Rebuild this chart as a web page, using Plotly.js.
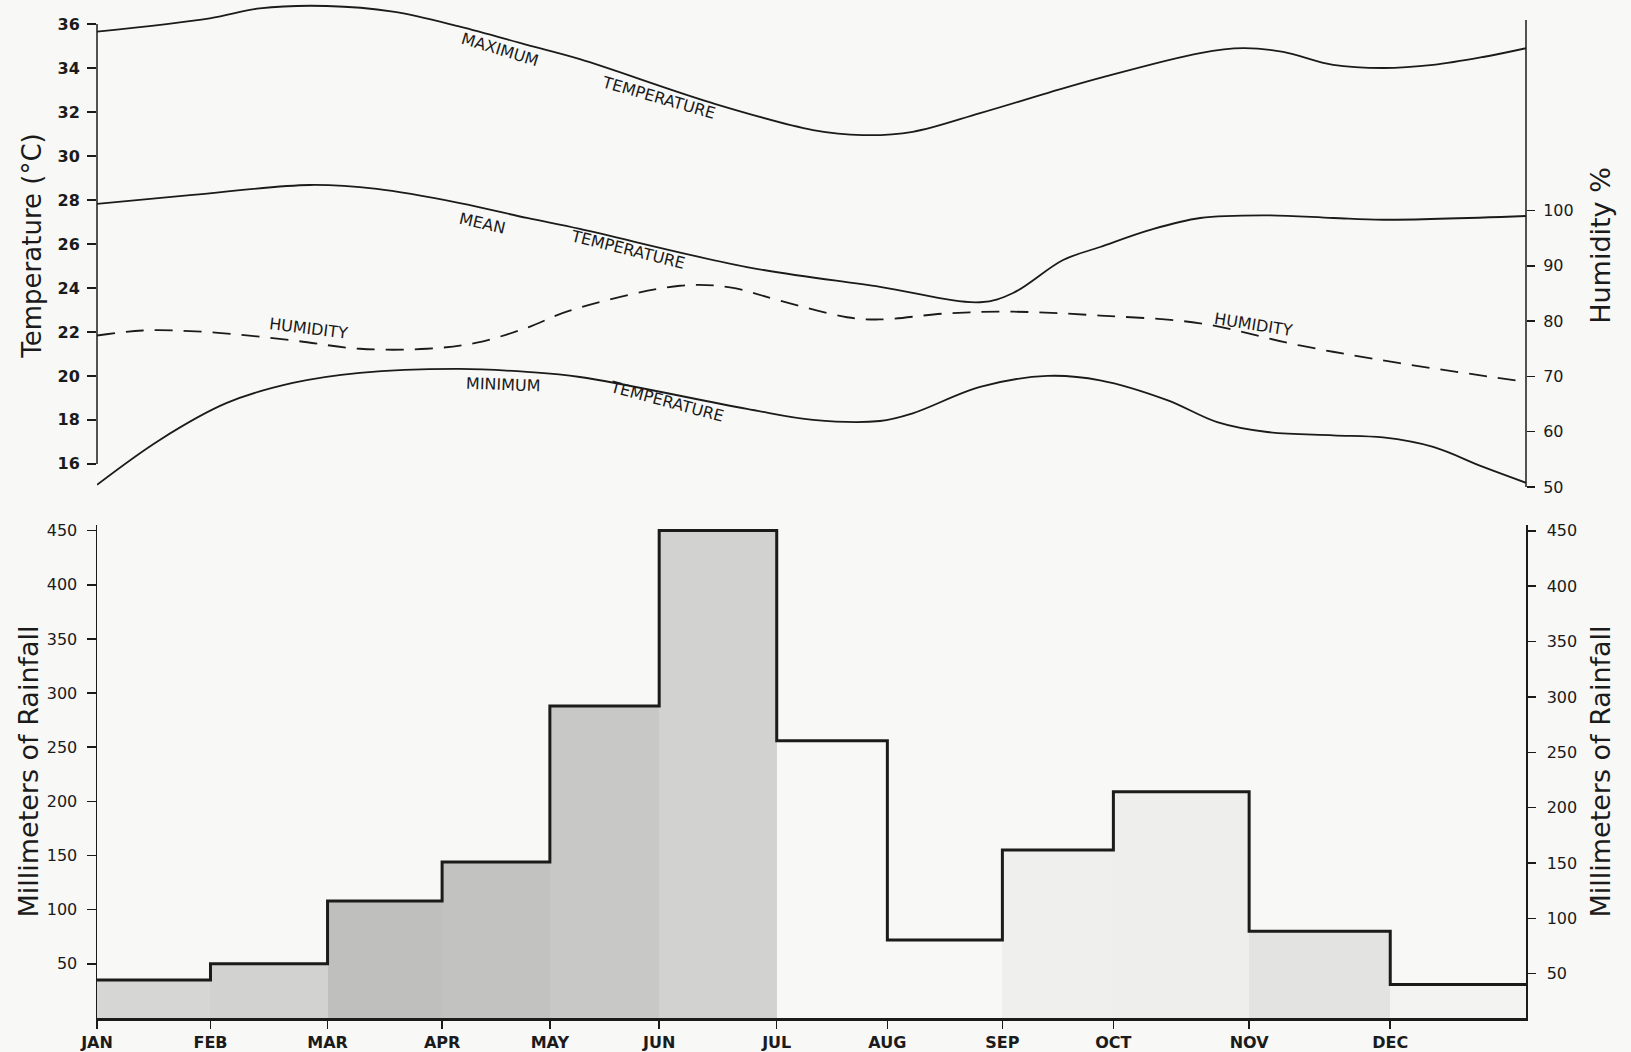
<!DOCTYPE html>
<html>
<head>
<meta charset="utf-8">
<script src="https://cdn.plot.ly/plotly-3.0.1.min.js"></script>
<style>
  html, body { margin: 0; padding: 0; background: #f8f8f6; }
  #chart { width: 1631px; height: 1052px; }
</style>
</head>
<body>
<div id="chart"></div>
<script>
// ---- Data ----
const months = ['JAN','FEB','MAR','APR','MAY','JUN','JUL','AUG','SEP','OCT','NOV','DEC'];
// positions of the month ticks on the (hand-drawn) time axis, in month units; last value = year end
const monthTickPos = [0, 0.953, 1.936, 2.898, 3.803, 4.721, 5.708, 6.637, 7.603, 8.535, 9.675, 10.86, 12];

// Monthly rainfall (mm)
const rainfall = [35, 50, 108, 144, 288, 450, 256, 72, 155, 209, 80, 31];

// Maximum temperature (°C)
const maxTempX = [0, 0.947, 1.367, 1.93, 2.485, 3.047, 3.61, 4.055, 5.17, 6.013, 6.43, 6.85, 7.416, 7.98, 8.424, 9.264, 9.625, 9.961, 10.38, 10.8, 11.22, 11.64, 12];
const maxTemp  = [35.65, 36.26, 36.71, 36.82, 36.56, 35.88, 35.05, 34.4, 32.4, 31.18, 30.95, 31.1, 31.95, 32.86, 33.55, 34.68, 34.9, 34.73, 34.14, 34.0, 34.14, 34.5, 34.9];

// Mean temperature (°C)
const meanTempX = [0, 0.804, 1.787, 2.35, 3.047, 3.61, 4.055, 5.458, 6.575, 7.416, 7.693, 8.113, 8.424, 8.844, 9.264, 9.827, 10.38, 10.8, 12];
const meanTemp  = [27.82, 28.23, 28.68, 28.5, 27.86, 27.18, 26.68, 24.95, 24.05, 23.35, 23.77, 25.27, 25.86, 26.64, 27.18, 27.3, 27.18, 27.1, 27.27];

// Minimum temperature (°C)
const minTempX = [0, 0.527, 1.09, 1.644, 2.207, 3.047, 3.61, 4.055, 5.458, 6.013, 6.575, 6.85, 7.416, 7.98, 8.424, 8.987, 9.407, 9.827, 10.38, 10.8, 11.22, 11.64, 12];
const minTemp  = [15.05, 17.09, 18.77, 19.68, 20.14, 20.32, 20.18, 19.95, 18.5, 18.0, 17.95, 18.3, 19.5, 20.0, 19.8, 18.9, 17.9, 17.45, 17.3, 17.2, 16.77, 15.86, 15.14];

// Relative humidity (%)
const humidityX = [0, 0.384, 0.947, 1.644, 2.207, 2.77, 3.19, 3.61, 3.97, 4.895, 5.315, 5.735, 6.298, 6.575, 7.138, 7.693, 8.424, 9.264, 10.1, 10.94, 12];
const humidity  = [77.4, 78.3, 78.0, 76.5, 75.0, 75.0, 76.1, 78.8, 81.9, 86.4, 86.1, 83.7, 80.7, 80.3, 81.4, 81.7, 81.0, 79.6, 75.6, 72.4, 69.0];

// Tick labels
const tempTicks = [16, 18, 20, 22, 24, 26, 28, 30, 32, 34, 36];
const humidityTicks = [50, 60, 70, 80, 90, 100];
const rainTicks = [50, 100, 150, 200, 250, 300, 350, 400, 450];

// ---- Styles ----
const INK = '#1b1b1b';
const FONT = 'DejaVu Sans, sans-serif';
const BG = '#f8f8f6';
const monthShade = ['#d6d6d4','#d2d2d0','#bfbfbd','#c2c2c0','#c8c8c6','#d2d2d0', BG, BG,'#efefed','#eeeeec','#e3e3e1','#f3f3f1'];

// derived geometry for the step chart
const monthMid = months.map((m, i) => (monthTickPos[i] + monthTickPos[i + 1]) / 2);
const monthWidth = months.map((m, i) => monthTickPos[i + 1] - monthTickPos[i]);
const stepX = monthTickPos.slice();
const stepY = rainfall.concat([rainfall[rainfall.length - 1]]);

const traces = [
  { x: maxTempX, y: maxTemp, type: 'scatter', mode: 'lines', name: 'Maximum temperature',
    line: { color: INK, width: 1.8, shape: 'spline', smoothing: 1 }, xaxis: 'x', yaxis: 'y' },
  { x: meanTempX, y: meanTemp, type: 'scatter', mode: 'lines', name: 'Mean temperature',
    line: { color: INK, width: 1.8, shape: 'spline', smoothing: 1 }, xaxis: 'x', yaxis: 'y' },
  { x: minTempX, y: minTemp, type: 'scatter', mode: 'lines', name: 'Minimum temperature',
    line: { color: INK, width: 1.8, shape: 'spline', smoothing: 1 }, xaxis: 'x', yaxis: 'y' },
  { x: humidityX, y: humidity, type: 'scatter', mode: 'lines', name: 'Humidity',
    line: { color: INK, width: 1.8, shape: 'spline', smoothing: 1, dash: '18px,11px' }, xaxis: 'x', yaxis: 'y2' },
  { x: monthMid, y: rainfall, width: monthWidth, type: 'bar', name: 'Rainfall',
    marker: { color: monthShade, line: { width: 0 } }, xaxis: 'x2', yaxis: 'y3' },
  { x: stepX, y: stepY, type: 'scatter', mode: 'lines', name: 'Rainfall outline',
    line: { color: INK, width: 3, shape: 'hv' }, xaxis: 'x2', yaxis: 'y3' },
  // carrier for the right-hand rainfall scale (invisible)
  { x: monthMid, y: rainfall, type: 'scatter', mode: 'lines', name: 'Rainfall (right scale)',
    opacity: 0, line: { width: 0 }, hoverinfo: 'skip', xaxis: 'x2', yaxis: 'y4' }
];

const tempTickFont = { family: FONT, size: 16, color: INK, weight: 'bold' };
const tickFont = { family: FONT, size: 16, color: INK };
const labelFont = { family: FONT, size: 16, color: INK };

function curveLabel(text, x, y, angle) {
  return { text: text, x: x, y: y, xref: 'x', yref: 'y', showarrow: false,
           textangle: angle, font: labelFont };
}

const layout = {
  width: 1631, height: 1052,
  margin: { l: 97, r: 105, t: 4, b: 34 },
  paper_bgcolor: BG, plot_bgcolor: BG,
  showlegend: false,
  bargap: 0,
  xaxis: { domain: [0, 1], anchor: 'y', range: [0, 12], visible: false, fixedrange: true },
  yaxis: { domain: [0.5237, 1], anchor: 'x', range: [14.95, 36.91],
           tickvals: tempTicks, ticks: 'outside', ticklen: 9, tickwidth: 1.5, tickcolor: INK,
           ticklabelstandoff: 4,
           showline: false, showgrid: false, zeroline: false, tickfont: tempTickFont,
           title: { text: 'Temperature (°C)', font: { family: FONT, size: 26, color: INK }, standoff: 8 } },
  yaxis2: { overlaying: 'y', anchor: 'x', side: 'right', range: [50, 137.36],
            tickvals: humidityTicks, ticks: 'outside', ticklen: 8, tickwidth: 1.5, tickcolor: INK,
            ticklabelstandoff: 5,
            showline: false, showgrid: false, zeroline: false,
            tickfont: tickFont,
            title: { text: 'Humidity %', font: { family: FONT, size: 27, color: INK }, standoff: 18 } },
  xaxis2: { domain: [0, 1], anchor: 'y3', range: [0, 12],
            tickvals: monthTickPos.slice(0, 12), ticktext: months,
            ticks: 'outside', ticklen: 8, tickwidth: 1.5, tickcolor: INK,
            showline: true, linecolor: INK, linewidth: 2.5, showgrid: false, zeroline: false,
            tickfont: { family: FONT, size: 16, color: INK, weight: 'bold' } },
  yaxis3: { domain: [0, 0.4862], anchor: 'x2', range: [0, 455.2],
            tickvals: rainTicks, ticks: 'outside', ticklen: 9, tickwidth: 1.5, tickcolor: INK,
            ticklabelstandoff: 6,
            showline: true, linecolor: INK, linewidth: 1.5, showgrid: false, zeroline: false,
            tickfont: tickFont,
            title: { text: 'Millimeters of Rainfall', font: { family: FONT, size: 27, color: INK }, standoff: 0 } },
  yaxis4: { overlaying: 'y3', anchor: 'x2', side: 'right', range: [10, 455.3],
            tickvals: rainTicks, ticks: 'outside', ticklen: 8, tickwidth: 1.5, tickcolor: INK,
            ticklabelstandoff: 8,
            showline: true, linecolor: INK, linewidth: 1.5, showgrid: false, zeroline: false,
            tickfont: tickFont,
            title: { text: 'Millimeters of Rainfall', font: { family: FONT, size: 27, color: INK }, standoff: 15 } },
  shapes: [
    // left temperature axis line (drawn between the 16 and 36 ticks, as in the original)
    { type: 'line', xref: 'paper', yref: 'y', x0: 0, x1: 0, y0: 16, y1: 36,
      line: { color: INK, width: 1.5 } },
    // right humidity axis line
    { type: 'line', xref: 'paper', yref: 'y', x0: 1, x1: 1, y0: 14.95, y1: 36.18,
      line: { color: INK, width: 1.5 } }
  ],
  annotations: [
    curveLabel('MAXIMUM', 3.383, 34.82, 17),
    curveLabel('TEMPERATURE', 4.712, 32.68, 16),
    curveLabel('MEAN', 3.24, 26.95, 13),
    curveLabel('TEMPERATURE', 4.457, 25.73, 14),
    curveLabel('HUMIDITY', 1.78, 22.14, 7),
    curveLabel('MINIMUM', 3.41, 19.59, 2),
    curveLabel('TEMPERATURE', 4.786, 18.82, 15),
    curveLabel('HUMIDITY', 9.71, 22.36, 9)
  ]
};

Plotly.newPlot('chart', traces, layout, { displayModeBar: false, staticPlot: true });
</script>
</body>
</html>
